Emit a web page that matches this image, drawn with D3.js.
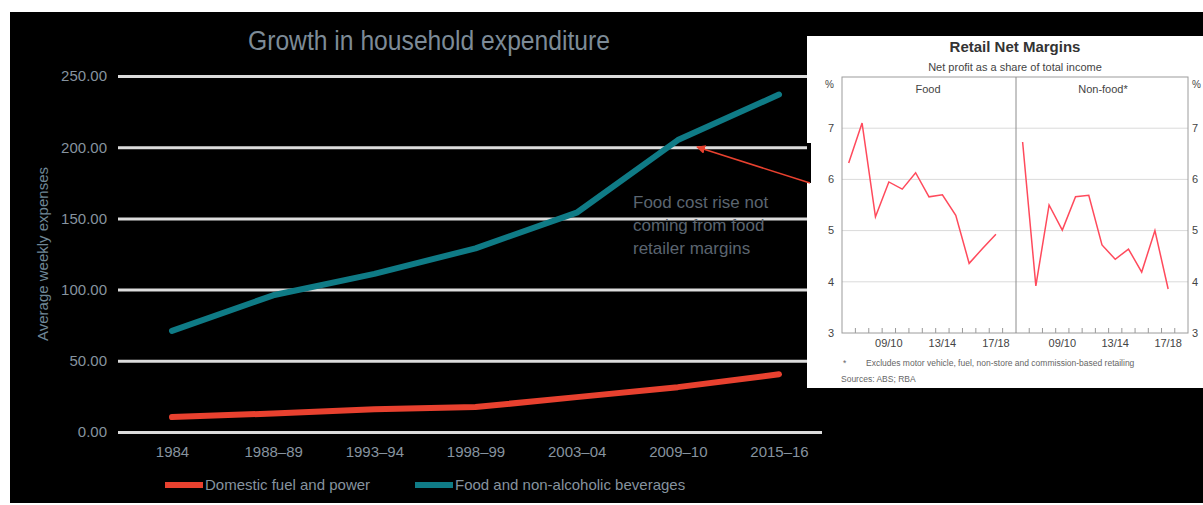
<!DOCTYPE html>
<html>
<head>
<meta charset="utf-8">
<script src="https://cdn.jsdelivr.net/npm/d3@7"></script>
<style>
  body { margin: 0; background: #fff; }
  svg { display: block; font-family: "Liberation Sans", Arial, sans-serif; }
</style>
</head>
<body>
<svg></svg>
<script>
const width = 1203;
const height = 505;

// main chart data
const categories = ["1984", "1988–89", "1993–94", "1998–99", "2003–04", "2009–10", "2015–16"];
const foodSpend = [71, 96, 111, 129, 154, 205, 237];
const fuelSpend = [10.5, 13, 16, 17.5, 24.5, 31.5, 40.5];
const yTicks = [0, 50, 100, 150, 200, 250];

// inset data
const years = ["06/07", "07/08", "08/09", "09/10", "10/11", "11/12", "12/13", "13/14", "14/15", "15/16", "16/17", "17/18", "18/19"];
const foodMargin = [6.32, 7.1, 5.27, 5.95, 5.81, 6.13, 5.66, 5.7, 5.3, 4.36, 4.65, 4.93];
const nonFoodMargin = [6.73, 3.92, 5.5, 5.01, 5.66, 5.69, 4.72, 4.44, 4.64, 4.19, 5.0, 3.86];
const marginTicks = [3, 4, 5, 6, 7];
const yearLabels = ["09/10", "13/14", "17/18"];

const teal = "#0f7b86";
const red = "#e8412f";
const grey = "#86939f";

let svg = d3.select("svg")
    .attr("width", width)
    .attr("height", height);

// slide background
svg.append("rect")
    .attr("x", 10).attr("y", 12)
    .attr("width", width - 10).attr("height", 491)
    .attr("fill", "#000");

//Scales
let xScale = d3.scalePoint()
    .domain(categories)
    .range([172, 779]);
let yScale = d3.scaleLinear()
    .domain([0, 250])
    .range([432, 76]);

let yAxis = d3.axisLeft(yScale)
    .tickValues(yTicks)
    .tickFormat(d3.format(".2f"))
    .tickSize(-(822 - 118))
    .tickPadding(11);
let gy = svg.append("g")
    .attr("transform", "translate(118, 0)")
    .call(yAxis);
gy.select(".domain").remove();
gy.selectAll("line").attr("stroke", "#dcdcdc").attr("stroke-width", 3);
gy.selectAll("text").attr("fill", grey).style("font-size", "15px");

let xAxis = d3.axisBottom(xScale)
    .tickSize(0)
    .tickPadding(14.5);
let gx = svg.append("g")
    .attr("transform", "translate(0, 432)")
    .call(xAxis);
gx.select(".domain").remove();
gx.selectAll("text").attr("fill", grey).style("font-size", "15px");

// lines
let line = d3.line()
    .x((d, i) => xScale(categories[i]))
    .y(d => yScale(d));
svg.append("path")
    .datum(fuelSpend)
    .attr("d", line)
    .attr("fill", "none")
    .attr("stroke", red)
    .attr("stroke-width", 6)
    .attr("stroke-linejoin", "round")
    .attr("stroke-linecap", "round");
svg.append("path")
    .datum(foodSpend)
    .attr("d", line)
    .attr("fill", "none")
    .attr("stroke", teal)
    .attr("stroke-width", 6)
    .attr("stroke-linejoin", "round")
    .attr("stroke-linecap", "round");

// titles
svg.append("text")
    .attr("x", 248).attr("y", 50)
    .attr("textLength", 362)
    .attr("lengthAdjust", "spacingAndGlyphs")
    .attr("fill", "#7d8b97")
    .style("font-size", "27px")
    .text("Growth in household expenditure");

svg.append("text")
    .attr("transform", "rotate(-90)")
    .attr("x", -254).attr("y", 43)
    .attr("dy", "0.35em")
    .attr("text-anchor", "middle")
    .attr("fill", "#6f8796")
    .style("font-size", "15px")
    .text("Average weekly expenses");

// legend
let legend = [
    {label: "Domestic fuel and power", color: red, x: 165},
    {label: "Food and non-alcoholic beverages", color: teal, x: 415}
];
let lg = svg.append("g").selectAll("g").data(legend).enter().append("g")
    .attr("transform", d => `translate(${d.x}, 485)`);
lg.append("line")
    .attr("x1", 0).attr("x2", 38)
    .attr("stroke", d => d.color)
    .attr("stroke-width", 6);
lg.append("text")
    .attr("x", 40)
    .attr("dy", "0.35em")
    .attr("fill", grey)
    .style("font-size", "15px")
    .text(d => d.label);

// annotation
let note = svg.append("text")
    .attr("x", 633).attr("y", 202)
    .attr("fill", "#5b6570")
    .style("font-size", "17px");
["Food cost rise not", "coming from food", "retailer margins"].forEach((t, i) => {
    note.append("tspan").attr("x", 633).attr("y", 208 + i * 23).text(t);
});

// inset panel
svg.append("rect")
    .attr("x", 807).attr("y", 36)
    .attr("width", width - 807).attr("height", 352)
    .attr("fill", "#fff");
svg.append("rect")
    .attr("x", 807).attr("y", 143)
    .attr("width", 4).attr("height", 40)
    .attr("fill", "#000");

// arrow
svg.append("defs").append("marker")
    .attr("id", "head")
    .attr("viewBox", "0 0 10 10")
    .attr("refX", 9).attr("refY", 5)
    .attr("markerWidth", 9).attr("markerHeight", 9)
    .attr("markerUnits", "userSpaceOnUse")
    .attr("orient", "auto")
    .append("path")
    .attr("d", "M0,0 L10,5 L0,10 z")
    .attr("fill", red);
svg.append("line")
    .attr("x1", 810).attr("y1", 183)
    .attr("x2", 697).attr("y2", 147)
    .attr("stroke", red)
    .attr("stroke-width", 1.5)
    .attr("marker-end", "url(#head)");

let mTop = 77, mBottom = 333;
let mScale = d3.scaleLinear().domain([3, 8]).range([mBottom, mTop]);
let foodX = d3.scaleBand().domain(years).range([842, 1016]);
let nonFoodX = d3.scaleBand().domain(years).range([1016, 1188]);

svg.append("text")
    .attr("x", 1015).attr("y", 52)
    .attr("text-anchor", "middle")
    .attr("fill", "#333")
    .style("font-size", "15px")
    .style("font-weight", "bold")
    .text("Retail Net Margins");
svg.append("text")
    .attr("x", 1015).attr("y", 71)
    .attr("text-anchor", "middle")
    .attr("fill", "#444")
    .style("font-size", "11px")
    .text("Net profit as a share of total income");

// grid
svg.append("g").selectAll("line")
    .data(marginTicks.slice(1))
    .enter().append("line")
    .attr("x1", 842).attr("x2", 1188)
    .attr("y1", d => mScale(d)).attr("y2", d => mScale(d))
    .attr("stroke", "#dadada");

// y labels both sides
[{x: 834, anchor: "end"}, {x: 1192, anchor: "start"}].forEach(s => {
    svg.append("g").selectAll("text")
        .data(marginTicks)
        .enter().append("text")
        .attr("x", s.x).attr("y", d => mScale(d))
        .attr("dy", "0.35em")
        .attr("text-anchor", s.anchor)
        .attr("fill", "#444")
        .style("font-size", "11px")
        .text(d => d);
    svg.append("text")
        .attr("x", s.x).attr("y", 84)
        .attr("dy", "0.35em")
        .attr("text-anchor", s.anchor)
        .attr("fill", "#444")
        .style("font-size", "10px")
        .text("%");
});

[foodX, nonFoodX].forEach(sc => {
    // minor ticks at year boundaries
    svg.append("g").selectAll("line")
        .data(years.slice(1))
        .enter().append("line")
        .attr("x1", d => sc(d)).attr("x2", d => sc(d))
        .attr("y1", mBottom).attr("y2", mBottom - 5)
        .attr("stroke", "#999");
    svg.append("g").selectAll("text")
        .data(yearLabels)
        .enter().append("text")
        .attr("x", d => sc(d) + sc.bandwidth() / 2)
        .attr("y", mBottom + 10)
        .attr("dy", "0.35em")
        .attr("text-anchor", "middle")
        .attr("fill", "#444")
        .style("font-size", "11px")
        .text(d => d);
});

// frame
svg.append("rect")
    .attr("x", 842).attr("y", mTop)
    .attr("width", 1188 - 842).attr("height", mBottom - mTop)
    .attr("fill", "none")
    .attr("stroke", "#9c9c9c");
svg.append("line")
    .attr("x1", 1016).attr("x2", 1016)
    .attr("y1", mTop).attr("y2", mBottom)
    .attr("stroke", "#8c8c8c");

svg.append("text").attr("x", 928).attr("y", 89).attr("dy", "0.35em")
    .attr("text-anchor", "middle").attr("fill", "#444").style("font-size", "11px").text("Food");
svg.append("text").attr("x", 1103).attr("y", 89).attr("dy", "0.35em")
    .attr("text-anchor", "middle").attr("fill", "#444").style("font-size", "11px").text("Non-food*");

[{data: foodMargin, sc: foodX}, {data: nonFoodMargin, sc: nonFoodX}].forEach(p => {
    let l = d3.line()
        .x((d, i) => p.sc(years[i]) + p.sc.bandwidth() / 2)
        .y(d => mScale(d));
    svg.append("path")
        .datum(p.data)
        .attr("d", l)
        .attr("fill", "none")
        .attr("stroke", "#ff4a5c")
        .attr("stroke-width", 1.5);
});

// footnotes
svg.append("text").attr("x", 843).attr("y", 366)
    .attr("fill", "#666").style("font-size", "8.5px").text("*");
svg.append("text").attr("x", 866).attr("y", 366)
    .attr("fill", "#666").style("font-size", "8.5px")
    .text("Excludes motor vehicle, fuel, non-store and commission-based retailing");
svg.append("text").attr("x", 841).attr("y", 382)
    .attr("fill", "#666").style("font-size", "8.5px")
    .text("Sources:    ABS; RBA");
</script>
</body>
</html>
